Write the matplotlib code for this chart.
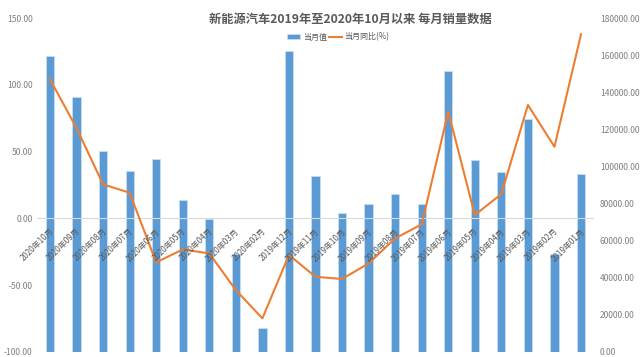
import matplotlib
matplotlib.use("Agg")
import matplotlib.pyplot as plt
import numpy as np

plt.rcParams['font.family'] = ['Noto Sans CJK SC', 'DejaVu Sans']

categories = ["2020年10月", "2020年09月", "2020年08月", "2020年07月", "2020年06月",
              "2020年05月", "2020年04月", "2020年03月", "2020年02月",
              "2019年12月", "2019年11月", "2019年10月", "2019年09月", "2019年08月",
              "2019年07月", "2019年06月", "2019年05月", "2019年04月", "2019年03月",
              "2019年02月", "2019年01月"]
monthly_sales = [159700, 137700, 108500, 97600, 103900, 81750, 71650, 52750, 12800,
                 162550, 94800, 74700, 79750, 85000, 79750, 151600, 103700, 96900,
                 125650, 52750, 95800]
yoy_pct = [104.3, 67.7, 25.5, 19.2, -33.0, -23.3, -26.3, -53.8, -75.0,
           -27.5, -43.8, -45.5, -33.8, -15.0, -4.5, 80.0, 2.5, 18.2, 85.0, 53.7, 138.0]

title = "新能源汽车2019年至2020年10月以来 每月销量数据"
bar_label = "当月值"
line_label = "当月同比(%)"

W, H = 641, 357
fig = plt.figure(figsize=(W / 100, H / 100), dpi=100)
left, right, top, bottom = 36.7, 594.3, 18.3, 351.7
ax = fig.add_axes([left / W, 1 - bottom / H, (right - left) / W, (bottom - top) / H])
ax2 = ax.twinx()

x = np.arange(len(categories))
bars = ax.bar(x, monthly_sales, width=0.31, color='#5B9BD5', edgecolor='#C9DDF0',
              linewidth=0.6, label=bar_label, zorder=2)
ax.set_ylim(0, 180000)
ax.set_xlim(-0.5, len(categories) - 0.5)
ax.set_yticks(np.arange(0, 180001, 20000))
ax.yaxis.tick_right()
ax.yaxis.set_major_formatter(matplotlib.ticker.FuncFormatter(lambda v, p: f"{v:.2f}"))
ax.tick_params(axis='y', length=0, pad=4, labelsize=6.1, labelcolor='#7F7F7F')
ax.set_xticks([])
for s in ax.spines.values():
    s.set_visible(False)

line, = ax2.plot(x, yoy_pct, color='#ED7D31', lw=1.5, label=line_label, zorder=3,
                 solid_joinstyle='round')
ax2.set_ylim(-100, 150)
ax2.set_yticks(np.arange(-100, 151, 50))
ax2.yaxis.tick_left()
ax2.yaxis.set_major_formatter(matplotlib.ticker.FuncFormatter(lambda v, p: f"{v:.2f}"))
ax2.tick_params(axis='y', length=0, pad=3, labelsize=6.1, labelcolor='#7F7F7F')
for s in ax2.spines.values():
    s.set_visible(False)
ax2.axhline(0, color='#D9D9D9', lw=0.8, zorder=1)

for xi, lab in zip(x, categories):
    ax2.annotate(lab, xy=(xi, 0), xytext=(1.5, -8.2), textcoords='offset points',
                 rotation=45, rotation_mode='anchor', ha='right', va='center',
                 fontsize=5.8, color='#595959', zorder=4)

fig.text(350 / W, 1 - 19 / H, title, ha='center', va='center', fontsize=8.8,
         fontweight='bold', color='#595959')

fig.legend(handles=[bars, line], labels=[bar_label, line_label], loc='center',
           bbox_to_anchor=(338.5 / W, 1 - 37 / H), ncol=2, frameon=False,
           fontsize=5.8, labelcolor='#595959', handlelength=1.6, handleheight=0.5,
           handletextpad=0.3, columnspacing=0.3, borderpad=0)

fig.savefig("out.png", dpi=100)
